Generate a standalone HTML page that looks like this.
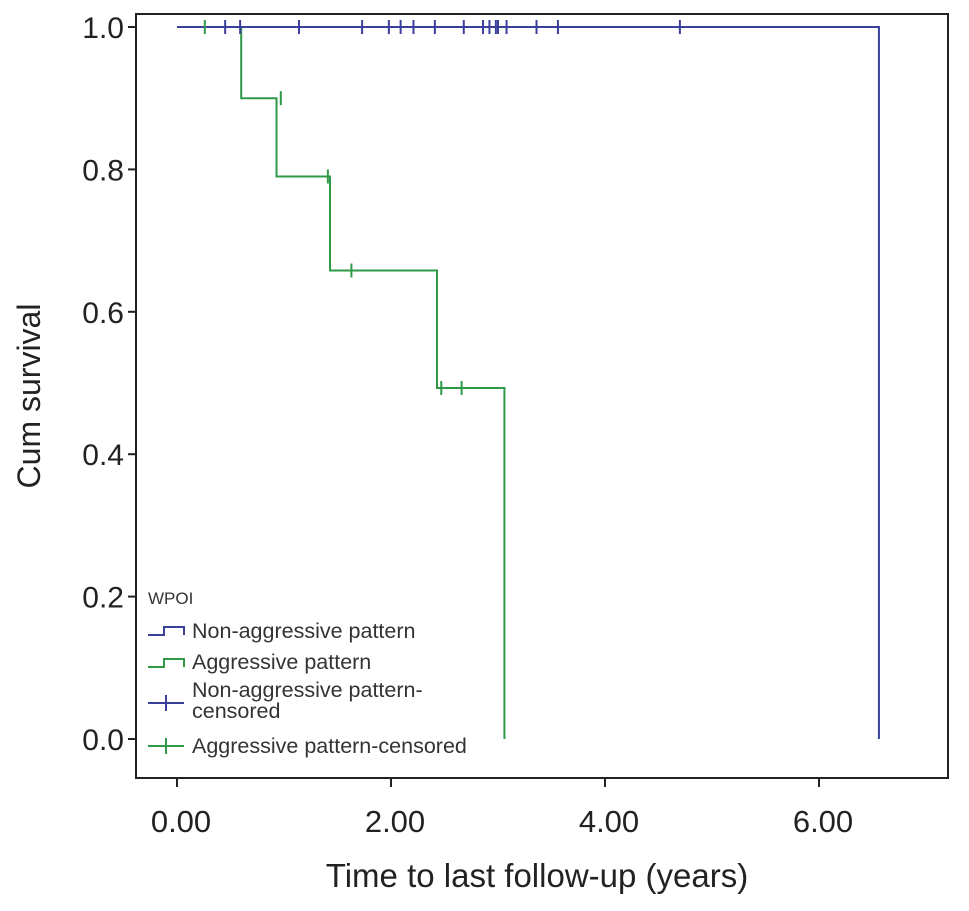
<!DOCTYPE html>
<html><head><meta charset="utf-8"><style>
body{margin:0;background:#fff;font-family:"Liberation Sans",sans-serif}
</style></head><body>
<svg id="chart" width="969" height="906" xmlns="http://www.w3.org/2000/svg" font-family="Liberation Sans, sans-serif">
<rect x="136" y="14" width="812" height="764" fill="#fff" stroke="#222" stroke-width="2"/>
<g id="axes"></g>
<g id="series"></g>
<text transform="translate(40,396) rotate(-90)" text-anchor="middle" font-size="32" fill="#222">Cum survival</text>
<text x="537" y="887" text-anchor="middle" font-size="33" fill="#222">Time to last follow-up (years)</text>
<g font-size="21.5" fill="#333">
<text x="148" y="604" font-size="17">WPOI</text>
<g><path d="M148,635 h16 v-8 h20 v8" fill="none" stroke="#3a3f9a" stroke-width="2"/><text x="192" y="638">Non-aggressive pattern</text></g>
<g><path d="M148,667 h16 v-8 h20 v8" fill="none" stroke="#2e9a48" stroke-width="2"/><text x="192" y="669">Aggressive pattern</text></g>
<g><path d="M148,703 h36 M166,695 v16" stroke="#3a3f9a" stroke-width="2"/><text x="192" y="697">Non-aggressive pattern-</text><text x="192" y="718">censored</text></g>
<g><path d="M148,746 h36 M166,738 v16" stroke="#2e9a48" stroke-width="2"/><text x="192" y="753">Aggressive pattern-censored</text></g>
</g>
</svg>
<script>
const yTicks=[0,0.2,0.4,0.6,0.8,1.0];
const yTickLabels=["0.0","0.2","0.4","0.6","0.8","1.0"];
const xTicks=[0,2,4,6];
const xTickLabels=["0.00","2.00","4.00","6.00"];
const blueEventTimes=[6.56];
const blueEventSurv=[0];
const blueCensorTimes=[0.45,0.59,1.14,1.73,1.98,2.09,2.21,2.41,2.68,2.86,2.92,2.98,3.0,3.08,3.36,3.56,4.7];
const blueCensorSurv=[1,1,1,1,1,1,1,1,1,1,1,1,1,1,1,1,1];
const greenEventTimes=[0.60,0.93,1.43,2.43,3.06];
const greenEventSurv=[0.9,0.79,0.658,0.493,0];
const greenCensorTimes=[0.26,0.97,1.41,1.63,2.47,2.66];
const greenCensorSurv=[1,0.9,0.79,0.658,0.493,0.493];
const X=t=>177+t*107, Y=s=>739-s*712;
const NS="http://www.w3.org/2000/svg";
function mk(tag,attrs,parent){const e=document.createElementNS(NS,tag);for(const k in attrs)e.setAttribute(k,attrs[k]);parent.appendChild(e);return e;}
const ax=document.getElementById('axes'), se=document.getElementById('series');
yTicks.forEach((v,i)=>{
 const l=mk('line',{x1:128,x2:136,y1:Y(v),y2:Y(v),stroke:'#222','stroke-width':2},ax);
 
 
 const t=mk('text',{x:124,y:Y(v)+11,'text-anchor':'end','font-size':30,fill:'#222'},ax);t.textContent=yTickLabels[i];
 
 
});
xTicks.forEach((v,i)=>{
 const l=mk('line',{x1:X(v),x2:X(v),y1:778,y2:787,stroke:'#222','stroke-width':2},ax);
 
 
 const t=mk('text',{x:X(v)+4,y:832,'text-anchor':'middle','font-size':31,fill:'#222'},ax);t.textContent=xTickLabels[i];
 
 
});
function step(times,surv,color,name){
 let d='M'+X(0)+','+Y(1);
 times.forEach((t,i)=>{d+=' H'+X(t)+' V'+Y(surv[i]);});
 const p=mk('path',{d:d,fill:'none',stroke:color,'stroke-width':2},se);
 
 
}
function cens(times,surv,color,name){
 times.forEach((t,i)=>{
  const p=mk('path',{d:'M'+X(t)+','+(Y(surv[i])-7)+' v14',stroke:color,'stroke-width':2},se);
  
  
 });
}
step(greenEventTimes,greenEventSurv,'#2e9a48','aggressive-survival-line');
step(blueEventTimes,blueEventSurv,'#3a3f9a','non-aggressive-survival-line');
cens(blueCensorTimes,blueCensorSurv,'#3a3f9a','non-aggressive-censor-mark');
cens(greenCensorTimes,greenCensorSurv,'#2e9a48','aggressive-censor-mark');
</script>
</body></html>
